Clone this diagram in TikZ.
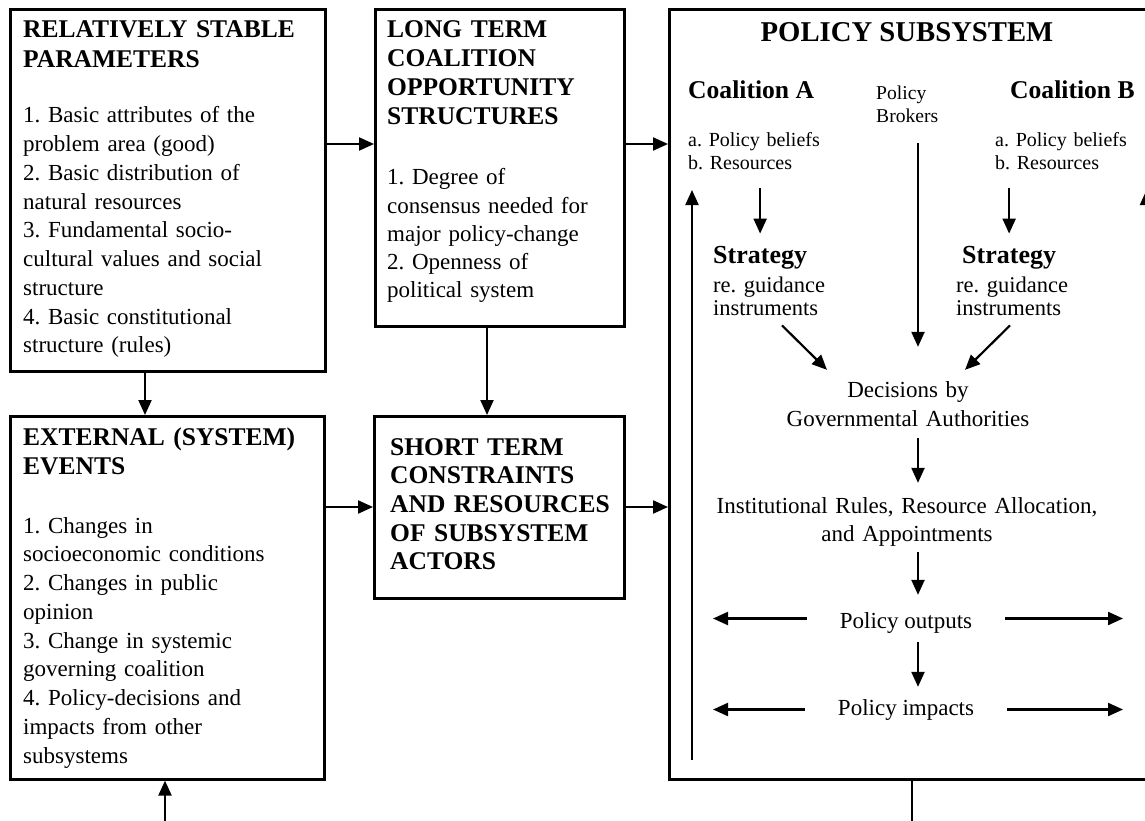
\documentclass[tikz,border=0pt]{standalone}
\usepackage{fontspec}
\setmainfont{Liberation Serif}
\usetikzlibrary{arrows.meta}
\frenchspacing

\begin{document}
\begin{tikzpicture}[x=1pt, y=-1pt,
  panel/.style = {draw, line width=2.6pt, inner sep=0pt, anchor=north west},
  txt/.style = {inner sep=0pt, anchor=base west},
  head/.style = {txt, font=\fontsize{25.5}{29}\selectfont\bfseries},
  body/.style = {txt, font=\fontsize{23}{28.75}\selectfont},
  small/.style = {txt, font=\fontsize{20}{23}\selectfont},
  flow/.style = {-{Triangle[length=15pt,width=13pt]}, line width=2.2pt}]
\useasboundingbox (0,0) rectangle (1145,821);

% the five boxes
\node[panel, minimum width=315pt, minimum height=362pt] (stable) at (9,8) {};
\node[panel, minimum width=249pt, minimum height=317pt] (longterm) at (374,8) {};
\node[panel, minimum width=314pt, minimum height=363pt] (external) at (9,415) {};
\node[panel, minimum width=250pt, minimum height=182pt] (shortterm) at (373,415) {};
\node[panel, minimum width=500pt, minimum height=770pt] (subsys) at (668,8) {};

% texts of the left boxes
\node[head, text width=300pt, align=left, font=\fontsize{25.5}{30}\selectfont\bfseries] (stabletitle) at (23,38) {RELATIVELY STABLE\\PARAMETERS};
\node[body, text width=300pt, align=left] (stablelist) at (23,123) {1. Basic attributes of the\\problem area (good)\\2. Basic distribution of\\natural resources\\3. Fundamental socio-\\cultural values and social\\structure\\4. Basic constitutional\\structure (rules)};
\node[head, text width=230pt, align=left] (longtitle) at (387,38) {LONG TERM\\COALITION\\OPPORTUNITY\\STRUCTURES};
\node[body, text width=230pt, align=left, font=\fontsize{23}{28.25}\selectfont] (longlist) at (387,185) {1. Degree of\\consensus needed for\\major policy-change\\2. Openness of\\political system};
\node[head, text width=300pt, align=left] (exttitle) at (23,445) {EXTERNAL (SYSTEM)\\EVENTS};
\node[body, text width=300pt, align=left] (extlist) at (23,533) {1. Changes in\\socioeconomic conditions\\2. Changes in public\\opinion\\3. Change in systemic\\governing coalition\\4. Policy-decisions and\\impacts from other\\subsystems};
\node[head, text width=230pt, align=left, font=\fontsize{25.5}{28.7}\selectfont\bfseries] (shorttitle) at (390,455) {SHORT TERM\\CONSTRAINTS\\AND RESOURCES\\OF SUBSYSTEM\\ACTORS};

% policy subsystem
\node[txt, anchor=base, font=\fontsize{28.7}{34}\selectfont\bfseries] (subtitle) at (907,42) {POLICY SUBSYSTEM};
\node[txt, font=\fontsize{25.6}{29}\selectfont\bfseries] (coalA) at (688,99) {Coalition A};
\node[small, text width=140pt, align=left] (coalAlist) at (688,147) {a. Policy beliefs\\b. Resources};
\node[small, text width=70pt, align=left, font=\fontsize{19.6}{23}\selectfont] (brokers) at (876,100) {Policy\\Brokers};
\node[txt, font=\fontsize{25.6}{29}\selectfont\bfseries] (coalB) at (1010,99) {Coalition B};
\node[small, text width=140pt, align=left] (coalBlist) at (995,147) {a. Policy beliefs\\b. Resources};
\node[txt, font=\fontsize{26}{29}\selectfont\bfseries] (stratA) at (713,263) {Strategy};
\node[txt, text width=140pt, align=left, font=\fontsize{22.5}{23}\selectfont] (stratAtxt) at (713,292) {re. guidance\\instruments};
\node[txt, font=\fontsize{26}{29}\selectfont\bfseries] (stratB) at (962,263) {Strategy};
\node[txt, text width=140pt, align=left, font=\fontsize{22.5}{23}\selectfont] (stratBtxt) at (956,292) {re. guidance\\instruments};
\node[body, anchor=base, text width=300pt, align=center, font=\fontsize{23}{29}\selectfont] (decisions) at (908,397) {Decisions by\\Governmental Authorities};
\node[body, anchor=base, text width=400pt, align=center, font=\fontsize{23}{28}\selectfont] (rules) at (907,513) {Institutional Rules, Resource Allocation,\\and Appointments};
\node[body, anchor=base] (outputs) at (906,628) {Policy outputs};
\node[body, anchor=base] (impacts) at (906,715) {Policy impacts};

\coordinate (row1) at (0,144);
\coordinate (row2) at (0,507);
\coordinate (col1) at (145,0);
\coordinate (col2) at (487,0);
\coordinate (spine) at (918,0);
\coordinate (extin) at (165,821);
\coordinate (subout) at (912,821);
\coordinate (fbLbot) at ([xshift=24pt,yshift=21pt]subsys.south west);
\coordinate (fbLtop) at ([xshift=24pt,yshift=-182pt]subsys.north west);
\coordinate (fbRbot) at (1146.5,757);
\coordinate (fbRtop) at (1146.5,190);

% between the boxes
\draw[flow] (stable.east |- row1) -- (longterm.west |- row1);
\draw[flow] (longterm.east |- row1) -- (subsys.west |- row1);
\draw[flow] (stable.south -| col1) -- (external.north -| col1);
\draw[flow] (longterm.south -| col2) -- (shortterm.north -| col2);
\draw[flow] (external.east |- row2) -- (shortterm.west |- row2);
\draw[flow] (shortterm.east |- row2) -- (subsys.west |- row2);
\draw[flow] (extin) -- (external.south -| extin);
\draw[line width=2.2pt] (subsys.south -| subout) -- (subout);

% inside the subsystem
\draw[flow, shorten <=18pt, shorten >=12pt] (stratA.north |- coalAlist.south) -- (stratA.north);
\draw[flow, shorten <=18pt, shorten >=12pt] (stratB.north |- coalBlist.south) -- (stratB.north);
\draw[flow, shorten <=20pt, shorten >=34pt] (brokers.south -| spine) -- (decisions.north -| spine);
\draw[flow] ([xshift=69pt,yshift=-10pt]stratAtxt.south west) -- ([xshift=-81pt,yshift=11pt]decisions.north);
\draw[flow] ([xshift=54pt,yshift=-10pt]stratBtxt.south west) -- ([xshift=57pt,yshift=11pt]decisions.north);
\draw[flow, shorten <=12pt, shorten >=14pt] (decisions.south -| spine) -- (rules.north -| spine);
\draw[flow, shorten <=6pt, shorten >=17pt] (rules.south -| spine) -- (outputs.north -| spine);
\draw[flow, shorten <=9pt, shorten >=12pt] (outputs.south -| spine) -- (impacts.north -| spine);

% feedback lines
\draw[flow] (fbLbot) -- (fbLtop);
\draw[flow] (fbRbot) -- (fbRtop);
\draw[flow, shorten <=33pt, shorten >=21pt] ([yshift=4pt]outputs.west) -- ([yshift=4pt]outputs.west -| fbLbot);
\draw[flow, shorten <=33pt, shorten >=23.5pt] ([yshift=4pt]outputs.east) -- ([yshift=4pt]outputs.east -| fbRbot);
\draw[flow, shorten <=33pt, shorten >=21pt] (impacts.west) -- (impacts.west -| fbLbot);
\draw[flow, shorten <=33pt, shorten >=23.5pt] (impacts.east) -- (impacts.east -| fbRbot);
\end{tikzpicture}
\end{document}
